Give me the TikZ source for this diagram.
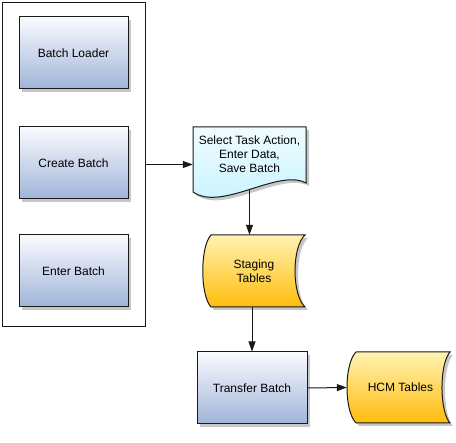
\documentclass[tikz,border=0pt]{standalone}
\usepackage{fontspec}
\setmainfont{Liberation Sans}
\usetikzlibrary{arrows.meta,shadows}
\definecolor{boxtop}{RGB}{250,251,255}
\definecolor{boxbot}{RGB}{160,180,216}
\definecolor{doctop}{RGB}{240,252,255}
\definecolor{docbot}{RGB}{195,243,255}
\definecolor{dbtop}{RGB}{255,243,178}
\definecolor{dbbot}{RGB}{255,188,12}
\definecolor{edge}{RGB}{25,25,25}
\begin{document}
\begin{tikzpicture}[x=1pt,y=-1pt,
  lbl/.style={font=\fontsize{12}{14.2}\selectfont, align=center, inner sep=0pt, text=black},
  shadowed/.style={drop shadow={shadow xshift=3pt, shadow yshift=-3pt, fill=black!22, opacity=1}},
  procbox/.style={draw=edge, line width=1pt, top color=boxtop, bottom color=boxbot,
    minimum width=109pt, minimum height=72pt, shadowed, lbl},
  docshape/.style={draw=edge, line width=1pt, top color=doctop, bottom color=docbot, shadowed},
  dbshape/.style={draw=edge, line width=1pt, top color=dbtop, bottom color=dbbot, shadowed},
  holder/.style={draw=none, inner sep=0pt, lbl},
  conn/.style={draw=edge, line width=1pt},
  arr/.style={conn, -{Triangle[length=10pt,width=7pt]}}]
\useasboundingbox (0,0) rectangle (456,443);

% container
\node[draw=edge, line width=1pt, minimum width=143pt, minimum height=324pt, inner sep=0pt,
  anchor=north west] (cont) at (2,2) {};

% process boxes
\node[procbox] (loader) at (73.5,53) {Batch Loader};
\node[procbox] (create) at (73.5,163) {Create Batch};
\node[procbox] (enter) at (73.5,271) {Enter Batch};
\node[procbox, minimum width=110pt] (trans) at (252,388) {Transfer Batch};

% document shape
\path[docshape] (193,127) -- (306,127) -- (306,183)
  .. controls (278,168) and (222,212) .. (193,192) -- cycle;
\node[holder, minimum width=113pt, minimum height=63pt] (doc) at (249.5,158.5) {};
\node[lbl] (doclbl) at ([yshift=4pt]doc.center) {Select Task Action,\\Enter Data,\\Save Batch};

% staging tables (stored data)
\path[dbshape] (211,235) -- (305,235)
  .. controls (291.7,247) and (291.7,295) .. (305,307) -- (211,307)
  .. controls (200,295) and (200,247) .. (211,235) -- cycle;
\node[holder, minimum width=102pt, minimum height=72pt] (stage) at (254,271) {Staging\\Tables};

% HCM tables (stored data)
\path[dbshape] (356,352) -- (450,352)
  .. controls (439.3,364) and (439.3,411) .. (450,423) -- (356,423)
  .. controls (344,411) and (344,364) .. (356,352) -- cycle;
\node[holder, minimum width=103pt, minimum height=71pt] (hcm) at (398.5,387.5) {};
\node[lbl] (hcmlbl) at ([xshift=2pt]hcm.center) {HCM Tables};

% connectors
\draw[arr] (cont.east) -- (doc.west |- cont.east);
\draw[arr] (doc.south) -- (doc.south |- stage.north);
\draw[arr] (trans.north |- stage.south) -- (trans.north);
\draw[arr] (trans.east) -- (hcm.west);
\end{tikzpicture}
\end{document}
